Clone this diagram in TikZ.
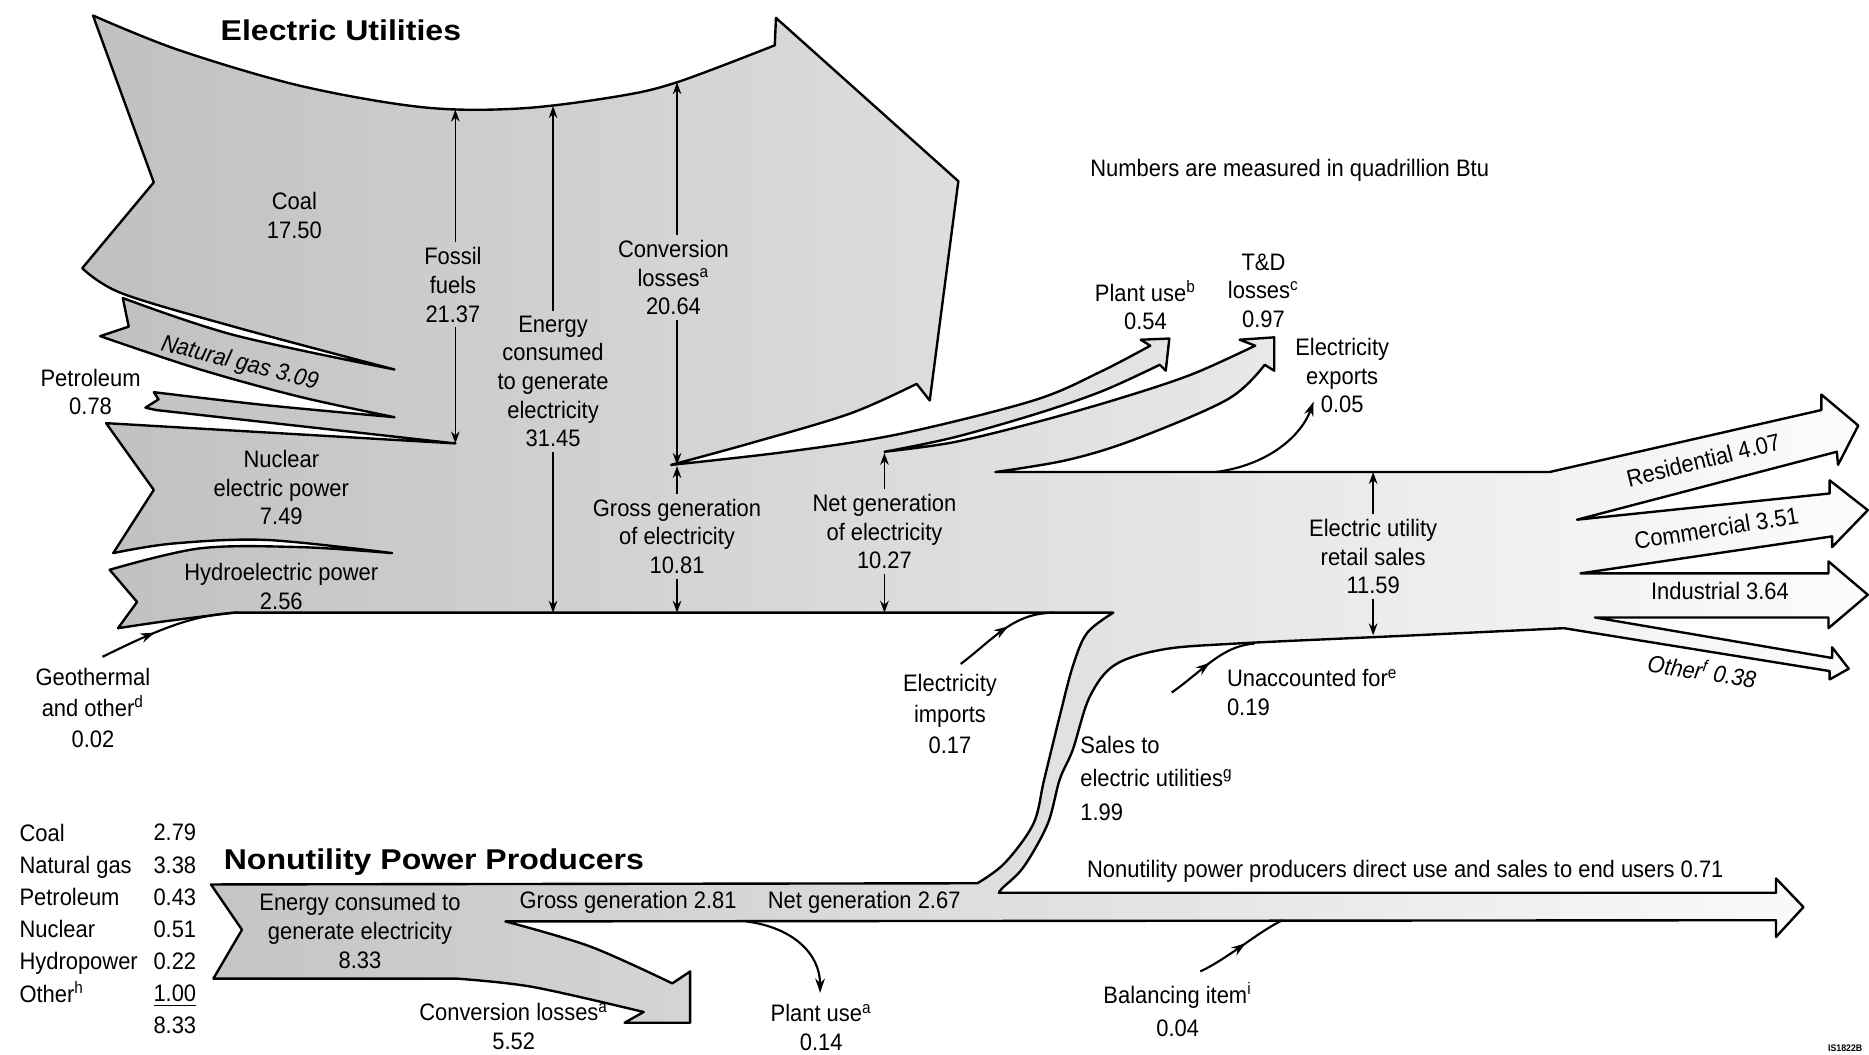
\documentclass[tikz,border=0pt]{standalone}
\usepackage{fontspec}
\setmainfont{Liberation Sans}[FakeStretch=0.92]
\newfontfamily\titlefont{Liberation Sans}[FakeStretch=1.12]
\usetikzlibrary{arrows.meta,decorations.markings}
\definecolor{fillL}{RGB}{192,192,192}
\definecolor{fillR}{RGB}{252,252,252}
\begin{document}
\begin{tikzpicture}[x=0.5pt,y=-0.5pt,
  lbl/.style={font=\fontsize{10}{#1}\selectfont, align=center, inner sep=2pt},
  lbl/.default=12,
  lblit/.style={font=\fontsize{10}{12}\selectfont\itshape, align=center, inner sep=2pt},
  titlef/.style={font=\fontsize{12}{14}\titlefont\bfseries, inner sep=1pt},
  flowshape/.style={draw=black, line width=1pt, line join=round, left color=fillL, right color=fillR},
  measure/.style={line width=0.7pt, -{Stealth[length=5pt,width=3.6pt]}},
  thinarr/.style={line width=0.9pt},
  endarrow/.style={-{Stealth[length=6pt,width=4pt]}},
  midarrow/.style={postaction={decorate,decoration={markings,mark=at position #1 with {\arrow{Stealth[length=6pt,width=4pt]}}}}}
]
\useasboundingbox (0,0) rectangle (1568,885);
\fill[white] (0,0) rectangle (1568,885);

% ---------------- main flow shape ----------------
\path[flowshape]
  plot[smooth, tension=0.55] coordinates {(78,13) (150,42) (252,72) (355,90) (436,91) (517,81) (568,69) (650,38)}
  -- (651,15) -- (804,152) -- (780,336) -- (769,322)
  -- plot[smooth, tension=0.55] coordinates {(769,322) (713,347) (629,372) (563,390)}
  -- plot[smooth, tension=0.55] coordinates {(563,390) (660,379) (755,364) (867,336) (923,312) (965,290)}
  -- (957,285) -- (981,284) -- (978,311) -- (973,306)
  -- plot[smooth, tension=0.55] coordinates {(973,306) (925,328) (870,347) (800,367) (742,379)}
  -- plot[smooth, tension=0.55] coordinates {(742,379) (800,371) (870,354) (940,334) (1000,314) (1053,290)}
  -- (1040,285) -- (1069,283) -- (1069,311) -- (1061,306)
  -- plot[smooth, tension=0.55] coordinates {(1061,306) (1030,335) (951,369) (895,386) (835,396)}
  -- (1300,396)
  -- (1528,344) -- (1528,331) -- (1559,357) -- (1542,390) -- (1541,379) -- (1323,436)
  -- (1535,414) -- (1535,403) -- (1567,428) -- (1537,459) -- (1537,450) -- (1326,481)
  -- (1534,481) -- (1534,471) -- (1567,499) -- (1534,527) -- (1534,518) -- (1338,518)
  -- (1537,552) -- (1537,543) -- (1551,561) -- (1535,570) -- (1535,563) -- (1312,527)
  -- plot[smooth, tension=0.55] coordinates {(1312,527) (1186,533) (1035,540) (975,545) (935,558) (914,585) (900,629) (889,654) (879,691) (859,727) (841,745) (838,749)}
  -- (1490,749) -- (1490,737) -- (1513,761) -- (1490,786) -- (1490,772) -- (424,773)
  -- plot[smooth, tension=0.55] coordinates {(424,773) (495,794) (564,825)}
  -- (579,815) -- (579,858) -- (524,858) -- (540,849)
  -- plot[smooth, tension=0.55] coordinates {(540,849) (447,828) (383,821)}
  -- (179,821) -- (203,780) -- (177,742) -- (820,741)
  -- plot[smooth, tension=0.55] coordinates {(820,741) (843,724) (867,691) (876,654) (889,601) (900,559) (912,531) (934,514)}
  -- (196,514)
  -- plot[smooth, tension=0.55] coordinates {(196,514) (140,521) (99,527)}
  -- (115,505) -- (92,478)
  -- plot[smooth, tension=0.55] coordinates {(92,478) (168,460) (252,459) (329,464)}
  -- plot[smooth, tension=0.55] coordinates {(329,464) (224,453) (145,456) (95,464)}
  -- (129,411) -- (89,355) -- (382,372) -- (131,344)
  -- (122,342) -- (133,335) -- (129,329)
  -- plot[smooth, tension=0.55] coordinates {(129,329) (224,340) (331,350)}
  -- plot[smooth, tension=0.55] coordinates {(331,350) (252,333) (168,310) (84,282)}
  -- (108,274) -- (103,250)
  -- plot[smooth, tension=0.55] coordinates {(103,250) (196,281) (331,310)}
  -- plot[smooth, tension=0.55] coordinates {(331,310) (196,274) (102,246) (69,225)}
  -- (129,153) -- cycle;

% ---------------- titles ----------------
\node[titlef] (eutitle) at (286,25) {Electric Utilities};
\node[titlef] (nutitle) at (364,723) {Nonutility Power Producers};
\node[lbl] (note) at (1082,143) {Numbers are measured in quadrillion Btu};

% ---------------- labels inside utility body ----------------
\node[lbl] (coal) at (247,181) {Coal\\17.50};
\node[lblit, rotate=-14] (gas) at (201,305) {Natural gas 3.09};
\node[lbl] (petro) at (76,329) {Petroleum\\0.78};
\node[lbl] (fossil) at (380,239) {Fossil\\fuels\\21.37};
\node[lbl] (energy) at (464,320) {Energy\\consumed\\to generate\\electricity\\31.45};
\node[lbl] (conv) at (565,233) {Conversion\\losses\textsuperscript{a}\\20.64};
\node[lbl] (nuclear) at (236,409) {Nuclear\\electric power\\7.49};
\node[lbl] (hydro) at (236,492) {Hydroelectric power\\2.56};
\node[lbl=13] (geo) at (78,594) {Geothermal\\and other\textsuperscript{d}\\0.02};
\node[lbl] (gross) at (568,450) {Gross generation\\of electricity\\10.81};
\node[lbl] (net) at (742,446) {Net generation\\of electricity\\10.27};
\node[lbl] (plantuse) at (961,256) {Plant use\textsuperscript{b}\\0.54};
\node[lbl] (td) at (1060,244) {T\&D\\losses\textsuperscript{c}\\0.97};
\node[lbl] (exports) at (1126,315) {Electricity\\exports\\0.05};
\node[lbl] (retail) at (1152,467) {Electric utility\\retail sales\\11.59};
\node[lbl, rotate=14] (res) at (1429,386) {Residential 4.07};
\node[lbl, rotate=9] (com) at (1440,443) {Commercial 3.51};
\node[lbl] (ind) at (1443,496) {Industrial 3.64};
\node[lblit, rotate=-9] (oth) at (1428,562) {Other\textsuperscript{f} 0.38};
\node[lbl=13] (imports) at (797,599) {Electricity\\imports\\0.17};
\node[lbl, align=left, anchor=west] (unacc) at (1025,581) {Unaccounted for\textsuperscript{e}\\0.19};
\node[lbl=14, align=left, anchor=west] (sales) at (902,653) {Sales to\\electric utilities\textsuperscript{g}\\1.99};
\node[lbl] (direct) at (1179,731) {Nonutility power producers direct use and sales to end users 0.71};
\node[lbl=14] (balance) at (988,847) {Balancing item\textsuperscript{i}\\0.04};

% ---------------- nonutility labels ----------------
\node[lbl] (ecnu) at (302,781) {Energy consumed to\\generate electricity\\8.33};
\node[lbl] (grossnu) at (527,757) {Gross generation 2.81};
\node[lbl] (netnu) at (725,757) {Net generation 2.67};
\node[lbl] (plantnu) at (689,862) {Plant use\textsuperscript{a}\\0.14};
\node[lbl] (convnu) at (431,861) {Conversion losses\textsuperscript{a}\\5.52};
\node[lbl=13.5, align=left, anchor=west] (tabnames) at (12,766)
  {Coal\\Natural gas\\Petroleum\\Nuclear\\Hydropower\\Other\textsuperscript{h}};
\node[lbl=13.5, align=right, anchor=east] (tabvals) at (169,779.5)
  {2.79\\3.38\\0.43\\0.51\\0.22\\\underline{1.00}\\8.33};
\node[font=\fontsize{4}{5}\selectfont\bfseries, inner sep=0pt] (code) at (1548,879) {IS1822B};

% ---------------- measurement arrows ----------------
\coordinate (fossilT) at (382,92);   \coordinate (fossilB) at (382,372);
\coordinate (energyT) at (464,89);   \coordinate (energyB) at (464,514);
\coordinate (convT) at (568,69);     \coordinate (convB) at (568,390);
\coordinate (grossT) at (568,391);   \coordinate (grossB) at (568,514);
\coordinate (netT) at (742,380);     \coordinate (netB) at (742,514);
\coordinate (retailT) at (1152,396); \coordinate (retailB) at (1152,533);
\draw[measure] (fossilT |- fossil.north) -- (fossilT);
\draw[measure] (fossilB |- fossil.south) -- (fossilB);
\draw[measure] (energyT |- energy.north) -- (energyT);
\draw[measure] (energyB |- energy.south) -- (energyB);
\draw[measure] (convT |- conv.north) -- (convT);
\draw[measure] (convB |- conv.south) -- (convB);
\draw[measure] (grossT |- gross.north) -- (grossT);
\draw[measure] (grossB |- gross.south) -- (grossB);
\draw[measure] (netT |- net.north) -- (netT);
\draw[measure] (netB |- net.south) -- (netB);
\draw[measure] (retailT |- retail.north) -- (retailT);
\draw[measure] (retailB |- retail.south) -- (retailB);

% ---------------- thin curved arrows ----------------
\coordinate (geoS) at (86,551);   \coordinate (geoE) at (200,514);
\draw[thinarr, midarrow=0.4] (geoS) .. controls (125,532) and (160,515) .. (geoE);
\coordinate (impS) at (806,557);  \coordinate (impE) at (885,514);
\draw[thinarr, midarrow=0.55] (impS) .. controls (835,535) and (850,514) .. (impE);
\coordinate (expS) at (1020,396); \coordinate (expE) at (1102,337);
\draw[thinarr, endarrow] (expS) .. controls (1065,390) and (1092,365) .. (expE);
\coordinate (unS) at (983,581);   \coordinate (unE) at (1052,540);
\draw[thinarr, midarrow=0.5] (unS) .. controls (1010,562) and (1025,542) .. (unE);
\coordinate (balS) at (1007,815); \coordinate (balE) at (1076,772);
\draw[thinarr, midarrow=0.55] (balS) .. controls (1032,803) and (1055,782) .. (balE);
\coordinate (puS) at (626,773);   \coordinate (puE) at (688,833);
\draw[thinarr, endarrow] (puS) .. controls (665,778) and (688,800) .. (puE);
\end{tikzpicture}
\end{document}
